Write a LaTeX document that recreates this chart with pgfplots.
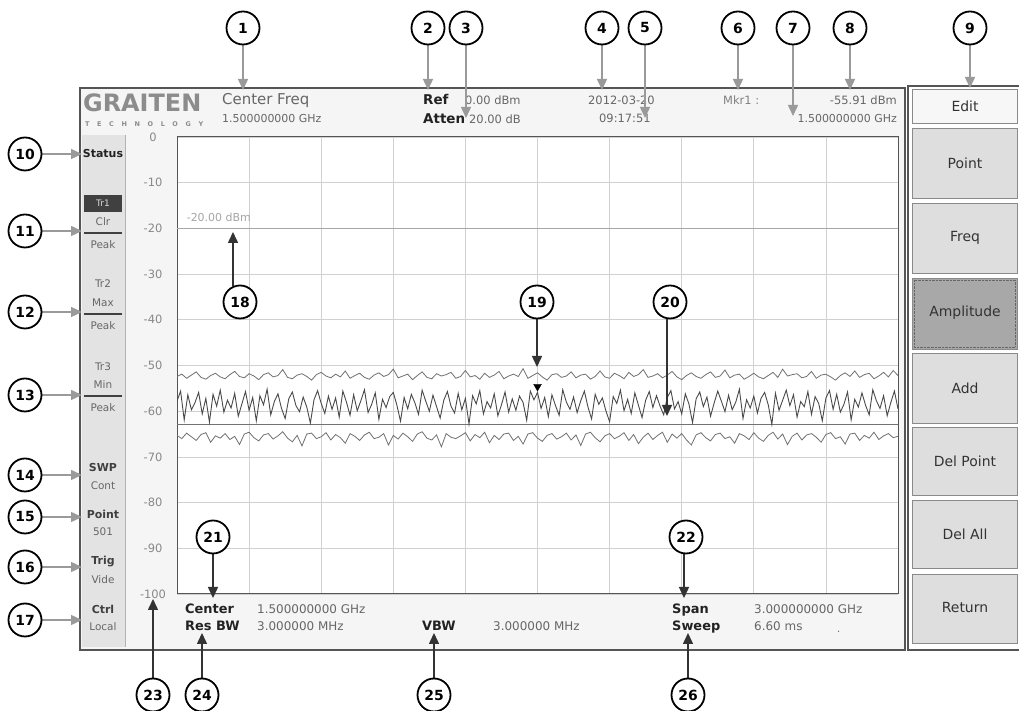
\documentclass[border=0pt]{standalone}
\usepackage{fontspec}
\setmainfont{DejaVu Sans}
\usepackage{pgfplots}
\pgfplotsset{compat=1.18}
\usepackage{pgfplotstable}
\usetikzlibrary{arrows.meta}
\newcommand{\fs}[1]{\fontsize{#1}{#1}\selectfont}
\definecolor{txtc}{HTML}{666666}
\definecolor{darkc}{HTML}{222222}
\definecolor{framec}{HTML}{555555}
\definecolor{screenbg}{HTML}{F5F5F5}
\definecolor{colbg}{HTML}{E3E3E3}
\definecolor{btn}{HTML}{DEDEDE}
\definecolor{btnb}{HTML}{8A8A8A}
\definecolor{ampc}{HTML}{A8A8A8}
\definecolor{gridc}{HTML}{D0D0D0}
\definecolor{tickc}{HTML}{888888}
\definecolor{arrg}{HTML}{9A9A9A}
\definecolor{arrd}{HTML}{333333}
\definecolor{logoc}{HTML}{8C8C8C}
\definecolor{tra}{HTML}{4A4A4A}
\definecolor{trb}{HTML}{707070}

\pgfplotstableread[header=false,row sep=\\]{
-57.8\\ -55.6\\ -61.9\\ -56.4\\ -59.7\\ -58.1\\ -55.9\\ -60.6\\ -57.2\\ -62.4\\
-56.3\\ -58.9\\ -55.4\\ -60.2\\ -57.6\\ -59.3\\ -56.1\\ -61.1\\ -58.4\\ -55.7\\
-59.8\\ -57.0\\ -62.1\\ -56.6\\ -58.6\\ -55.2\\ -60.8\\ -57.9\\ -56.2\\ -59.4\\
-61.6\\ -57.3\\ -55.8\\ -58.8\\ -60.1\\ -56.9\\ -59.1\\ -62.6\\ -57.5\\ -55.5\\
-58.3\\ -60.5\\ -56.7\\ -59.6\\ -57.1\\ -61.3\\ -55.6\\ -58.0\\ -60.9\\ -56.4\\
-59.9\\ -57.7\\ -55.3\\ -60.3\\ -58.5\\ -56.0\\ -61.8\\ -57.4\\ -59.2\\ -56.8\\
-55.9\\ -58.7\\ -62.2\\ -57.0\\ -59.5\\ -56.3\\ -58.2\\ -60.7\\ -55.4\\ -57.8\\
-60.0\\ -56.5\\ -59.0\\ -61.5\\ -57.6\\ -55.7\\ -58.9\\ -60.4\\ -56.1\\ -59.7\\
-57.2\\ -62.8\\ -56.6\\ -58.4\\ -55.5\\ -60.6\\ -57.9\\ -59.3\\ -56.2\\ -61.0\\
-58.6\\ -55.8\\ -60.2\\ -57.3\\ -59.8\\ -56.7\\ -58.1\\ -62.0\\ -55.6\\ -57.5\\
-55.9\\ -59.4\\ -57.0\\ -61.2\\ -56.4\\ -58.8\\ -60.9\\ -55.3\\ -58.0\\ -59.6\\
-56.9\\ -60.3\\ -57.7\\ -55.6\\ -59.1\\ -61.7\\ -56.3\\ -58.5\\ -57.1\\ -60.0\\
-62.3\\ -56.8\\ -58.3\\ -55.4\\ -59.9\\ -57.4\\ -60.5\\ -56.0\\ -58.7\\ -61.4\\
-57.6\\ -55.7\\ -59.2\\ -56.6\\ -58.9\\ -60.8\\ -57.0\\ -55.5\\ -59.5\\ -57.9\\
-60.6\\ -56.2\\ -58.4\\ -62.5\\ -57.3\\ -55.8\\ -59.0\\ -56.9\\ -61.1\\ -58.2\\
-55.6\\ -57.8\\ -60.1\\ -56.5\\ -59.7\\ -58.0\\ -55.2\\ -61.6\\ -57.5\\ -59.3\\
-56.7\\ -60.4\\ -57.2\\ -55.9\\ -58.6\\ -62.9\\ -56.1\\ -59.8\\ -57.6\\ -55.4\\
-58.8\\ -56.4\\ -61.3\\ -57.9\\ -59.0\\ -55.7\\ -60.7\\ -56.8\\ -58.3\\ -62.1\\
-57.1\\ -55.5\\ -59.6\\ -56.3\\ -60.2\\ -58.5\\ -55.8\\ -61.9\\ -57.4\\ -59.1\\
-56.0\\ -58.7\\ -60.8\\ -55.3\\ -57.7\\ -59.4\\ -56.6\\ -61.0\\ -58.1\\ -55.6\\
-59.5\\
}\trA

\pgfplotstableread[header=false,row sep=\\]{
-52.4\\ -51.9\\ -52.8\\ -52.1\\ -51.4\\ -52.6\\ -53.0\\ -52.2\\ -51.7\\ -52.5\\
-52.9\\ -52.0\\ -51.3\\ -52.4\\ -52.7\\ -51.8\\ -52.3\\ -53.1\\ -52.0\\ -51.6\\
-52.5\\ -52.2\\ -50.9\\ -52.6\\ -52.9\\ -52.1\\ -51.8\\ -52.4\\ -53.2\\ -52.0\\
-51.5\\ -52.3\\ -52.7\\ -51.9\\ -52.5\\ -51.2\\ -52.8\\ -52.2\\ -51.7\\ -52.6\\
-53.0\\ -52.1\\ -51.6\\ -52.4\\ -52.0\\ -50.8\\ -52.7\\ -52.3\\ -51.9\\ -53.1\\
-52.2\\ -51.4\\ -52.6\\ -52.9\\ -51.8\\ -52.3\\ -52.0\\ -51.5\\ -52.8\\ -52.4\\
-51.1\\ -52.5\\ -52.2\\ -53.0\\ -51.7\\ -52.6\\ -52.1\\ -51.3\\ -52.9\\ -52.3\\
-51.9\\ -52.4\\ -50.7\\ -52.8\\ -52.2\\ -51.6\\ -52.5\\ -53.2\\ -52.0\\ -51.8\\
-52.6\\ -52.3\\ -51.4\\ -52.7\\ -52.1\\ -51.9\\ -53.0\\ -52.4\\ -51.2\\ -52.5\\
-52.8\\ -51.7\\ -52.2\\ -52.9\\ -51.5\\ -52.4\\ -52.0\\ -50.9\\ -52.6\\ -52.3\\
-51.8\\ -52.7\\ -52.1\\ -51.3\\ -52.5\\ -53.1\\ -52.2\\ -51.6\\ -52.4\\ -52.8\\
-52.0\\ -51.4\\ -52.6\\ -52.3\\ -51.0\\ -52.7\\ -52.1\\ -51.9\\ -53.0\\ -52.4\\
-51.7\\ -52.5\\ -52.9\\ -52.2\\ -51.5\\ -52.6\\ -50.8\\ -52.3\\ -52.0\\ -51.8\\
-52.7\\ -52.4\\ -51.3\\ -52.8\\ -52.1\\ -51.9\\ -52.5\\ -53.2\\ -52.2\\ -51.6\\
-52.4\\ -51.2\\ -52.6\\ -52.0\\ -51.7\\ -52.9\\ -52.3\\ -51.5\\ -52.5\\ -51.1\\
-52.2\\
}\trB

\pgfplotstableread[header=false,row sep=\\]{
-65.3\\ -66.0\\ -64.8\\ -65.6\\ -66.4\\ -65.1\\ -64.7\\ -66.8\\ -65.4\\ -65.9\\
-64.9\\ -66.2\\ -65.5\\ -67.3\\ -65.0\\ -64.6\\ -65.8\\ -66.5\\ -65.2\\ -64.9\\
-66.1\\ -65.4\\ -64.5\\ -65.9\\ -66.7\\ -65.3\\ -67.6\\ -65.0\\ -64.8\\ -66.0\\
-65.6\\ -64.7\\ -66.3\\ -65.1\\ -65.8\\ -67.0\\ -64.9\\ -65.5\\ -66.4\\ -65.2\\
-64.6\\ -66.0\\ -65.7\\ -64.9\\ -67.4\\ -65.3\\ -66.1\\ -64.8\\ -65.6\\ -66.6\\
-65.0\\ -64.5\\ -65.9\\ -66.3\\ -65.2\\ -67.8\\ -64.9\\ -65.7\\ -66.0\\ -65.4\\
-64.7\\ -66.5\\ -65.1\\ -65.8\\ -64.6\\ -66.9\\ -65.3\\ -66.2\\ -65.0\\ -64.8\\
-66.4\\ -65.5\\ -67.2\\ -65.0\\ -64.7\\ -65.9\\ -66.6\\ -65.3\\ -64.9\\ -66.1\\
-65.6\\ -64.8\\ -66.3\\ -65.2\\ -67.5\\ -65.0\\ -64.6\\ -65.8\\ -66.7\\ -65.4\\
-64.9\\ -66.0\\ -65.5\\ -64.7\\ -66.4\\ -65.1\\ -67.1\\ -65.7\\ -64.8\\ -66.2\\
-65.3\\ -64.6\\ -66.8\\ -65.0\\ -65.9\\ -64.9\\ -66.3\\ -67.4\\ -65.2\\ -64.7\\
-65.8\\ -66.5\\ -65.1\\ -64.8\\ -66.0\\ -65.6\\ -67.0\\ -64.9\\ -65.4\\ -66.2\\
-64.7\\ -65.9\\ -66.6\\ -65.3\\ -64.6\\ -66.1\\ -65.0\\ -67.3\\ -65.5\\ -64.8\\
-66.3\\ -65.2\\ -64.9\\ -65.7\\ -66.8\\ -65.1\\ -64.7\\ -66.0\\ -65.6\\ -67.2\\
-65.0\\ -64.8\\ -66.4\\ -65.3\\ -65.9\\ -64.6\\ -66.2\\ -65.4\\ -64.9\\ -65.8\\
-65.5\\
}\trC

\begin{document}
\begin{tikzpicture}[x=1bp,y=1bp,
  tx/.style={inner sep=0, anchor=base west, text=txtc},
  bx/.style={inner sep=0, anchor=base west, text=darkc, font=\fs{13}\bfseries},
  cc/.style={inner sep=0, anchor=center},
  co/.style={circle, draw=black, line width=1.8bp, fill=white, minimum size=33bp, inner sep=0, font=\fs{14}\bfseries, text=black},
  ga/.style={draw=arrg, line width=1.5bp, -{Triangle[length=11bp,width=10bp]}, arrg},
  da/.style={draw=arrd, line width=1.5bp, -{Triangle[length=11bp,width=10bp]}, arrd}]
\path[use as bounding box] (0,0) rectangle (1019,711);
% ---------- backgrounds (pixel coordinates, y downward)
\begin{scope}[shift={(0,711)}, yscale=-1]
\fill[screenbg] (80,88) rectangle (905,650);
\fill[colbg] (82,135) rectangle (125,647);
\draw[gray!60, line width=1bp] (125,135) -- (125,647);
\draw[framec, line width=1.3bp] (80,88) rectangle (905,650);
\draw[framec, line width=1.3bp] (1019,86) -- (908,86) -- (908,650) -- (1019,650);
\draw[fill=white!97!black, draw=btnb] (912,89) rectangle (1017,123);
\foreach \a/\b in {128/198,203/273,353/423,427/495,500/568,574/643}
  \draw[fill=btn, draw=btnb] (912,\a) rectangle (1017,\b);
\draw[fill=ampc, draw=btnb] (912,278) rectangle (1017,349);
\draw[black!60, densely dotted] (914,280) rectangle (1015,347);
\end{scope}

\begin{axis}[at={(177bp,117bp)}, anchor=south west, width=721bp, height=457bp, scale only axis,
  xmin=0, xmax=3, ymin=-100, ymax=0,
  xtick={0,0.3,0.6,0.9,1.2,1.5,1.8,2.1,2.4,2.7,3},
  xticklabels={,,,,,,,,,,},
  ytick={-100,-90,...,0},
  yticklabels={-100,-90,-80,-70,-60,-50,-40,-30,-20,-10,0},
  major tick length=0,
  grid=major, grid style={draw=gridc, line width=0.7bp},
  axis line style={draw=framec, line width=1bp},
  yticklabel style={anchor=center, xshift=-24bp, font=\fs{11.5}, text=tickc},
  axis background/.style={fill=white},
]
\addplot[draw=black!35, line width=1.1bp] coordinates {(0,-20) (3,-20)};
\node[anchor=west, inner sep=0, text=black!35, font=\fs{11}] at (axis cs:0.04,-17.7) {-20.00 dBm};
\addplot[draw=black!55, line width=1.1bp] coordinates {(0,-63) (3,-63)};
\addplot[draw=trb, line width=0.8bp] table[x expr=\coordindex*0.02, y index=0] {\trB};
\addplot[draw=trb, line width=0.8bp] table[x expr=\coordindex*0.02, y index=0] {\trC};
\addplot[draw=tra, line width=0.9bp] table[x expr=\coordindex*0.015, y index=0] {\trA};
\addplot[only marks, mark=triangle*, mark size=4.5bp, mark options={rotate=180, fill=black, draw=black}] coordinates {(1.5,-54.6)};
\end{axis}

% ---------- texts and callouts
\begin{scope}[shift={(0,711)}, yscale=-1]
% logo
\node[inner sep=0, anchor=base west, font=\fs{24}\bfseries, text=logoc] at (83,112) {GRAITEN};
\node[inner sep=0, anchor=base west, font=\fs{6.5}\bfseries, text=logoc] at (85,127) {\makebox[118bp][s]{T\hfill E\hfill C\hfill H\hfill N\hfill O\hfill L\hfill O\hfill G\hfill Y}};
% header
\node[tx, font=\fs{15}] at (222,105) {Center Freq};
\node[tx, font=\fs{11}] at (222,123) {1.500000000 GHz};
\node[bx, font=\fs{13.5}\bfseries] at (423,105) {Ref};
\node[tx, font=\fs{11.5}] at (465,105) {0.00 dBm};
\node[bx, font=\fs{13.5}\bfseries] at (423,124) {Atten};
\node[tx, font=\fs{11.5}] at (469,124) {20.00 dB};
\node[tx, font=\fs{11.5}] at (588,105) {2012-03-20};
\node[tx, font=\fs{11.5}] at (599,123) {09:17:51};
\node[tx, font=\fs{11.5}, text=black!50] at (723,105) {Mkr1 :};
\node[tx, anchor=base east, font=\fs{11.5}] at (897,105) {-55.91 dBm};
\node[tx, anchor=base east, font=\fs{11}] at (897,123) {1.500000000 GHz};
% left column
\node[cc, font=\fs{11}\bfseries, text=darkc] at (103,154) {Status};
\fill[black!75] (84,195) rectangle (122,212);
\node[cc, font=\fs{9}, text=black!15] at (103,203.5) {Tr1};
\node[cc, font=\fs{10.5}, text=txtc] at (103,222) {Clr};
\node[cc, font=\fs{10.5}, text=txtc] at (103,245) {Peak};
\node[cc, font=\fs{10.5}, text=txtc] at (103,284) {Tr2};
\node[cc, font=\fs{10.5}, text=txtc] at (103,303) {Max};
\node[cc, font=\fs{10.5}, text=txtc] at (103,326) {Peak};
\node[cc, font=\fs{10.5}, text=txtc] at (103,367) {Tr3};
\node[cc, font=\fs{10.5}, text=txtc] at (103,385) {Min};
\node[cc, font=\fs{10.5}, text=txtc] at (103,408) {Peak};
\foreach \yy in {233,314,396} \draw[black!75, line width=2.5bp] (84,\yy) -- (122,\yy);
\node[cc, font=\fs{11}\bfseries, text=black!75] at (103,468) {SWP};
\node[cc, font=\fs{10.5}, text=txtc] at (103,486) {Cont};
\node[cc, font=\fs{11}\bfseries, text=black!75] at (103,514) {Point};
\node[cc, font=\fs{10.5}, text=txtc] at (103,532) {501};
\node[cc, font=\fs{11}\bfseries, text=black!75] at (103,562) {Trig};
\node[cc, font=\fs{10.5}, text=txtc] at (103,580) {Vide};
\node[cc, font=\fs{11}\bfseries, text=black!75] at (103,609) {Ctrl};
\node[cc, font=\fs{10.5}, text=txtc] at (103,627) {Local};
% bottom row
\node[bx] at (185,614) {Center};
\node[tx, font=\fs{12}] at (257,614) {1.500000000 GHz};
\node[bx] at (185,631) {Res BW};
\node[tx, font=\fs{12}] at (257,631) {3.000000 MHz};
\node[bx] at (422,631) {VBW};
\node[tx, font=\fs{12}] at (493,631) {3.000000 MHz};
\node[bx] at (672,614) {Span};
\node[tx, font=\fs{12}] at (754,614) {3.000000000 GHz};
\node[bx] at (672,631) {Sweep};
\node[tx, font=\fs{12}] at (754,631) {6.60 ms};
\node[tx, font=\fs{10}] at (837,633) {.};
% buttons
\foreach \t/\yy in {Edit/106,Point/163,Freq/238,Amplitude/313,Add/388,Del Point/461,Del All/534,Return/608}
  \node[cc, font=\fs{14}, text=black!80] at (965,\yy) {\t};
% gray callout arrows
\foreach \xx/\yy in {243/90,428/90,466/118,602/90,645/118,738/90,793/116,850/90,970/88}
  \draw[ga] (\xx,45) -- (\xx,\yy);
\foreach \yy in {154,231,312,395,475,517,567,620}
  \draw[ga] (42,\yy) -- (82,\yy);
% dark callout arrows
\draw[da] (233,286) -- (233,232);
\draw[da] (537,318) -- (537,367);
\draw[da] (667,318) -- (667,416);
\draw[da] (213,553) -- (213,598);
\draw[da] (684,553) -- (684,598);
\draw[da] (153,679) -- (153,599);
\draw[da] (202,679) -- (202,633);
\draw[da] (434,679) -- (434,633);
\draw[da] (688,679) -- (688,633);
% circles
\foreach \xx/\yy/\n in {243/28/1,428/28/2,466/28/3,602/28/4,645/28/5,738/28/6,793/28/7,850/28/8,970/28/9,
  25/154/10,25/231/11,25/312/12,25/395/13,25/475/14,25/517/15,25/567/16,25/620/17,
  240/302/18,537/302/19,670/302/20,213/537/21,686/537/22,
  153/695/23,202/695/24,434/695/25,688/695/26}
  \node[co] at (\xx,\yy) {\n};
\end{scope}
\end{tikzpicture}
\end{document}
